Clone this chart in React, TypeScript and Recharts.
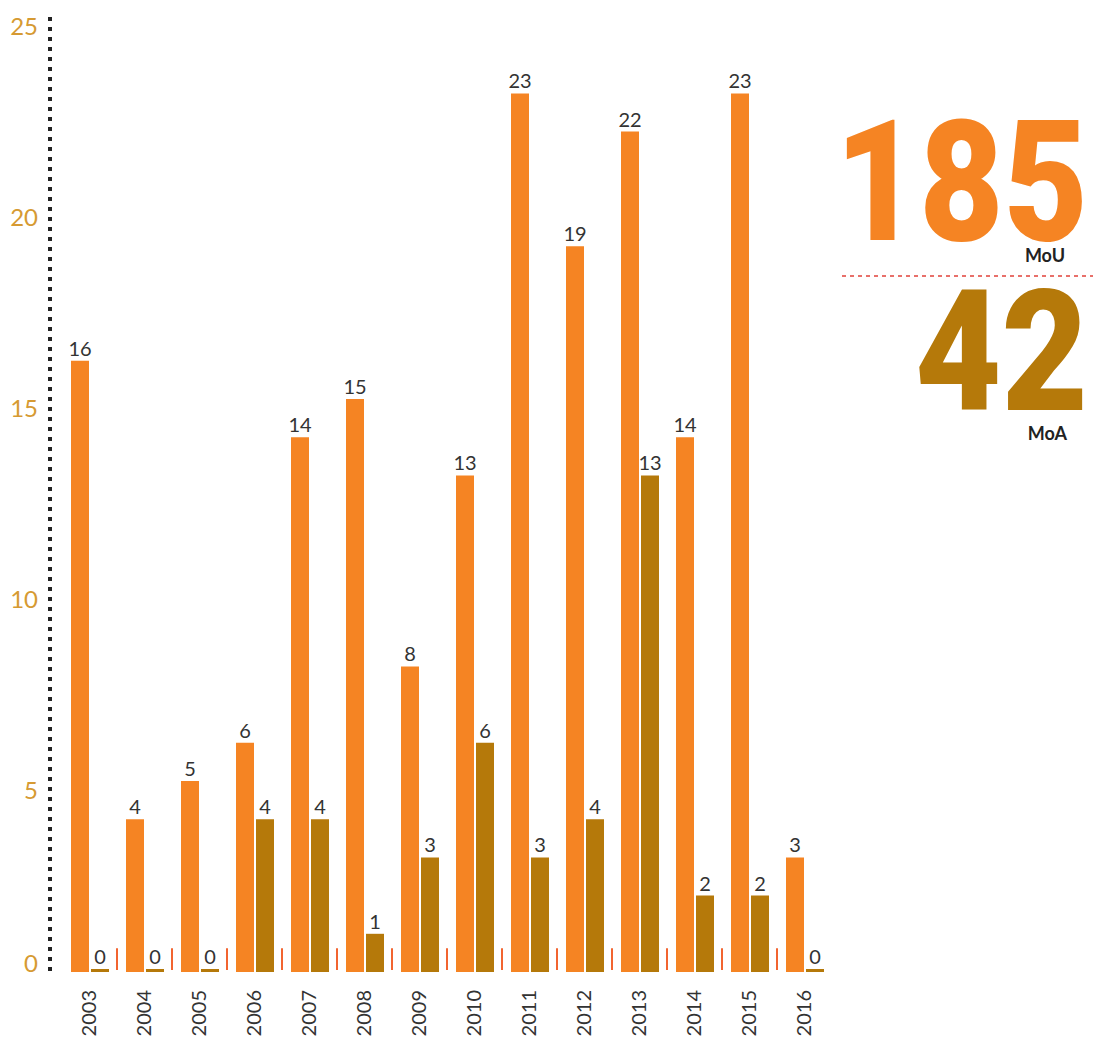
import {
  Bar,
  BarChart,
  LabelList,
  ReferenceLine,
  XAxis,
  YAxis,
} from 'recharts'

const years = ['2003', '2004', '2005', '2006', '2007', '2008', '2009', '2010', '2011', '2012', '2013', '2014', '2015', '2016']
const mouCounts = [16, 4, 5, 6, 14, 15, 8, 13, 23, 19, 22, 14, 23, 3]
const moaCounts = [0, 0, 0, 4, 4, 1, 3, 6, 3, 4, 13, 2, 2, 0]
const yTicks = [0, 5, 10, 15, 20, 25]

const totalMou = '185'
const totalMoa = '42'

const ORANGE = '#F58423'
const BROWN = '#B5790A'
const GOLD = '#D69A32'
const SEPARATOR = '#F26430'
const TEXT_DARK = '#333333'
const FONT = 'Lato, "Noto Sans", sans-serif'
const BIG_FONT = 'Roboto, "Noto Sans", sans-serif'

const rows = years.map((year, i) => ({
  year,
  mou: mouCounts[i],
  moa: moaCounts[i],
}))

function YearTick({ x, y, payload }: { x: number; y: number; payload: { value: string } }) {
  return (
    <text
      transform={`translate(${x - 2},${y + 18}) rotate(-90)`}
      textAnchor="end"
      dominantBaseline="central"
      fontSize={20}
      fontFamily={FONT}
      fill={TEXT_DARK}
    >
      {payload.value}
    </text>
  )
}

// the source's tick labels sit a little below their gridline; the zero sits above the baseline
function CountTick({ x, y, payload }: { x: number; y: number; payload: { value: number } }) {
  const dy = payload.value === 0 ? -10 : 8
  return (
    <text
      x={x}
      y={y + dy}
      textAnchor="end"
      dominantBaseline="central"
      fontSize={24}
      fontFamily={FONT}
      fill={GOLD}
    >
      {payload.value}
    </text>
  )
}

function BigNumber({ x, y, width, color, children }: { x: number; y: number; width: number; color: string; children: string }) {
  // tall, condensed figure: set at 150px and stretched vertically
  return (
    <text
      transform={`translate(${x},${y}) scale(1,1.12)`}
      fontSize={150}
      fontWeight={900}
      fontFamily={BIG_FONT}
      fill={color}
      textLength={width}
      lengthAdjust="spacingAndGlyphs"
    >
      {children}
    </text>
  )
}

function Totals() {
  return (
    <svg
      width={1093}
      height={1040}
      style={{ position: 'absolute', left: 0, top: 0, pointerEvents: 'none' }}
    >
      <BigNumber x={835} y={240} width={253} color={ORANGE}>
        {totalMou}
      </BigNumber>
      <text x={1065} y={262} textAnchor="end" fontSize={18} fontWeight={700} fontFamily={FONT} fill="#222">
        MoU
      </text>
      <line x1={842} y1={276} x2={1093} y2={276} stroke="#E8706A" strokeWidth={2} strokeDasharray="4 4" />
      <BigNumber x={915} y={410} width={173} color={BROWN}>
        {totalMoa}
      </BigNumber>
      <text x={1067} y={440} textAnchor="end" fontSize={18} fontWeight={700} fontFamily={FONT} fill="#222">
        MoA
      </text>
    </svg>
  )
}

export default function App() {
  return (
    <div style={{ position: 'absolute', left: 0, top: 0, width: 1093, height: 1040, background: '#fff' }}>
      <BarChart
        width={1093}
        height={1040}
        data={rows}
        margin={{ top: 17, right: 261, left: 0, bottom: 0 }}
        barSize={18}
        barGap={2}
      >
        <XAxis
          dataKey="year"
          height={68}
          axisLine={false}
          tickLine={false}
          tickSize={0}
          tickMargin={0}
          interval={0}
          padding={{ left: 12, right: 0 }}
          tick={YearTick}
        />
        <YAxis
          width={50}
          domain={[0, 25]}
          ticks={yTicks}
          interval={0}
          tickLine={false}
          tickSize={0}
          tickMargin={12}
          axisLine={{ stroke: '#222', strokeWidth: 4, strokeDasharray: '4 6' }}
          tick={CountTick}
        />
        {years.slice(0, -1).map((year) => (
          <ReferenceLine
            key={year}
            position="end"
            segment={[
              { x: year, y: 0.05 },
              { x: year, y: 0.62 },
            ]}
            stroke={SEPARATOR}
            strokeWidth={2}
            ifOverflow="visible"
          />
        ))}
        <Bar dataKey="mou" fill={ORANGE} isAnimationActive={false} minPointSize={3}>
          <LabelList dataKey="mou" position="top" offset={5} fill={TEXT_DARK} fontSize={20} fontFamily={FONT} />
        </Bar>
        <Bar dataKey="moa" fill={BROWN} isAnimationActive={false} minPointSize={3}>
          <LabelList dataKey="moa" position="top" offset={5} fill={TEXT_DARK} fontSize={20} fontFamily={FONT} />
        </Bar>
      </BarChart>
      <Totals />
    </div>
  )
}
